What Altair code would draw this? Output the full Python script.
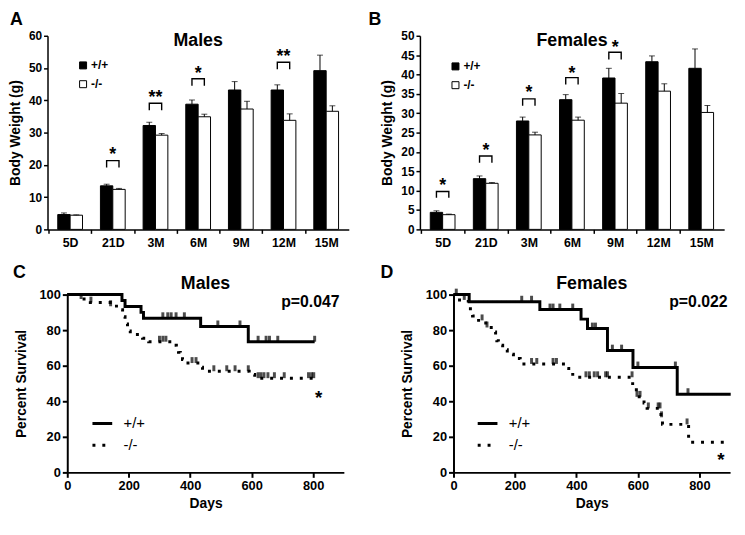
import altair as alt
import pandas as pd

FONT = "Liberation Sans"

# ---------------- data ----------------
ages = ["5D", "21D", "3M", "6M", "9M", "12M", "15M"]
genotypes = ["+/+", "-/-"]

# Panel A: males body weight (g), mean and SEM
male_wt = [4.6, 13.5, 32.2, 38.8, 43.2, 43.2, 49.2]
male_wt_sem = [0.5, 0.5, 1.0, 1.3, 2.6, 1.6, 4.8]
male_ko = [4.4, 12.4, 29.2, 34.9, 37.3, 33.8, 36.6]
male_ko_sem = [0.1, 0.3, 0.5, 0.8, 2.4, 2.0, 1.7]
male_sig_ages = ["21D", "3M", "6M", "12M"]
male_sig_marks = ["*", "**", "*", "**"]
male_bracket_top = [21.3, 39.1, 46.7, 51.8]
male_bracket_leg = [19.2, 36.9, 44.5, 49.6]
male_star_y = [24.6, 42.2, 49.6, 55.0]

# Panel B: females body weight (g)
female_wt = [4.4, 13.1, 28.0, 33.5, 39.1, 43.3, 41.6]
female_wt_sem = [0.4, 0.7, 1.0, 1.3, 2.5, 1.5, 5.0]
female_ko = [3.8, 11.9, 24.4, 28.2, 32.6, 35.7, 30.2]
female_ko_sem = [0.15, 0.2, 0.7, 0.8, 2.5, 1.9, 1.8]
female_sig_ages = ["5D", "21D", "3M", "6M", "9M"]
female_sig_marks = ["*", "*", "*", "*", "*"]
female_bracket_top = [9.8, 18.95, 33.7, 39.2, 45.75]
female_bracket_leg = [8.2, 17.2, 31.9, 37.4, 43.9]
female_star_y = [12.5, 21.6, 36.4, 41.4, 48.2]

# Panel C: males survival (Kaplan-Meier steps)
cm_wt_days = [0, 178, 188, 240, 248, 434, 589, 805]
cm_wt_surv = [100, 96.7, 93.3, 90.0, 86.7, 82.1, 73.5, 73.5]
cm_wt_cens = [311, 327, 338, 354, 381, 490, 562, 621, 647, 658, 685, 805]
cm_ko_days = [0, 45, 75, 140, 170, 180, 184, 188, 192, 196, 200, 205, 245, 265,
              345, 355, 362, 368, 375, 383, 430, 440, 592, 610, 805]
cm_ko_surv = [100, 97.5, 95.5, 93.5, 91.5, 89.5, 87.5, 85.5, 83.5, 81.5, 79.5, 77.5,
              75.5, 73.5, 71.5, 69.5, 67.5, 65.5, 63.5, 61.5, 59.2, 56.9, 55.0, 53.0, 53.0]
cm_ko_cens = [45, 77, 141, 300, 311, 321, 406, 419, 477, 519, 546, 589, 621, 630,
              640, 653, 674, 706, 785, 795, 802]

# Panel D: females survival
fd_wt_days = [0, 51, 281, 415, 436, 501, 584, 728, 902]
fd_wt_surv = [100, 96.0, 91.6, 86.2, 80.9, 68.5, 59.0, 44.0, 44.0]
fd_wt_cens = [222, 254, 314, 324, 346, 388, 452, 462, 517, 547, 600, 722, 763]
fd_ko_days = [0, 10, 48, 55, 62, 70, 105, 133, 137, 141, 146, 160, 175, 195, 217,
              365, 375, 388, 583, 595, 620, 630, 675, 680, 765, 886]
fd_ko_surv = [100, 97, 94, 91, 88, 85.5, 81.5, 79, 76.5, 74, 71.5, 69, 66.5, 64, 61,
              58.5, 56, 53.5, 47.5, 42.5, 39, 36, 31, 27, 17, 17]
fd_ko_cens = [9, 35, 93, 109, 254, 271, 324, 335, 431, 442, 458, 469, 495, 501, 581,
              597, 607, 634, 666, 672, 677, 760]


# ---------------- helpers ----------------
def label_layer(text, dx, dy, size, align="left"):
    return alt.Chart(alt.Data(values=[{"t": text}])).mark_text(
        font=FONT, fontSize=size, fontWeight="bold", align=align, baseline="alphabetic",
        color="black"
    ).encode(x=alt.value(dx), y=alt.value(dy), text="t:N")


def bar_panel(letter, title, wt, wt_sem, ko, ko_sem, sig_ages, sig_marks, br_top, br_leg,
              star_y, ymax, ystep, w, h, legx, legy, letter_dx):
    bars = pd.DataFrame({
        "age": ages * 2,
        "g": ["+/+"] * len(ages) + ["-/-"] * len(ages),
        "v": wt + ko,
        "hi": [a + b for a, b in zip(wt, wt_sem)] + [a + b for a, b in zip(ko, ko_sem)],
    })
    rows = []
    for a, t, l in zip(sig_ages, br_top, br_leg):
        rows += [
            {"age": a, "g": "+/+", "v": l, "o": 0},
            {"age": a, "g": "+/+", "v": t, "o": 1},
            {"age": a, "g": "-/-", "v": t, "o": 2},
            {"age": a, "g": "-/-", "v": l, "o": 3},
        ]
    br = pd.DataFrame(rows)
    stars = pd.DataFrame({"age": sig_ages, "v": star_y, "t": sig_marks})

    pi, po = 0.42, 0.24
    step = w / (len(ages) - pi + 2 * po)
    X = alt.X("age:N", sort=ages,
              scale=alt.Scale(domain=ages, paddingInner=pi, paddingOuter=po),
              axis=alt.Axis(title=None, labelAngle=0, tickOffset=-step / 2,
                            labelOffset=step / 2, labelFontSize=12.5, labelPadding=3,
                            domainWidth=1.5, tickWidth=1.5, tickSize=4))
    XO = alt.XOffset("g:N", sort=genotypes,
                     scale=alt.Scale(domain=genotypes, paddingInner=0, paddingOuter=0))
    yax = alt.Axis(title="Body Weight (g)", values=list(range(0, ymax + 1, ystep)),
                   labelFontSize=12, titleFontSize=14, titlePadding=6, labelPadding=2,
                   domainWidth=1.5, tickWidth=1.5, tickSize=4, labelFlush=False)
    ys = alt.Scale(domain=[0, ymax], nice=False, zero=True)
    Y = alt.Y("v:Q", scale=ys, axis=yax)

    bar = alt.Chart(bars).mark_bar(stroke="black", strokeWidth=1).encode(
        x=X, xOffset=XO, y=Y,
        fill=alt.Fill("g:N", sort=genotypes,
                      scale=alt.Scale(domain=genotypes, range=["black", "white"]),
                      legend=alt.Legend(title=None, orient="none", legendX=legx, legendY=legy,
                                        symbolType="square", symbolSize=50,
                                        symbolStrokeColor="black", symbolStrokeWidth=1,
                                        labelFont=FONT, labelFontSize=12, labelFontWeight="bold",
                                        labelColor="black", labelOffset=2, rowPadding=7,
                                        padding=0)))
    err = alt.Chart(bars).mark_rule(color="black", strokeWidth=1).encode(
        x=X, xOffset=XO, y=Y, y2="hi:Q")
    cap = alt.Chart(bars).mark_tick(color="black", thickness=1, size=6).encode(
        x=X, xOffset=XO, y=alt.Y("hi:Q", scale=ys, axis=yax))
    brk = alt.Chart(br).mark_line(color="black", strokeWidth=1.4).encode(
        x=X, xOffset=XO, y=Y, detail="age:N", order="o:Q")
    st = alt.Chart(stars).mark_text(font=FONT, fontSize=18, fontWeight="bold",
                                    baseline="middle", dy=5, color="black").encode(
        x=X, y=Y, text="t:N")
    lt = label_layer(letter, letter_dx, -11, 18)
    tt = label_layer(title, w / 2, 10, 18, align="center")
    return alt.layer(bar, err, cap, brk, st, lt, tt).properties(width=w, height=h)


def step_value(days, surv, d):
    v = surv[0]
    for dd, ss in zip(days, surv):
        if dd <= d:
            v = ss
    return v


def km_panel(letter, title, pval, wt_days, wt_surv, wt_cens, ko_days, ko_surv, ko_cens,
             pval_xy, star_xy, w, h, legx, legy, letter_dx, shift=0, left_room=None):
    curve = pd.DataFrame({
        "g": ["+/+"] * len(wt_days) + ["-/-"] * len(ko_days),
        "d": wt_days + ko_days,
        "s": wt_surv + ko_surv,
        "o": list(range(len(wt_days))) + list(range(len(ko_days))),
    })
    cens = pd.DataFrame({
        "d": wt_cens + ko_cens,
        "s": [step_value(wt_days, wt_surv, d) for d in wt_cens]
             + [step_value(ko_days, ko_surv, d) for d in ko_cens],
    })
    notes = pd.DataFrame({"d": [pval_xy[0]], "s": [pval_xy[1]], "t": [pval]})
    star = pd.DataFrame({"d": [star_xy[0]], "s": [star_xy[1]], "t": ["*"]})

    X = alt.X("d:Q", scale=alt.Scale(domain=[0, 900], nice=False, range=[shift, shift + w]),
              axis=alt.Axis(title="Days", values=[0, 200, 400, 600, 800], labelFontSize=13,
                            titleFontSize=14, labelFlush=False, domainWidth=2, tickWidth=2,
                            tickSize=5, labelPadding=2, titlePadding=5))
    yaxis_kw = dict(title="Percent Survival", values=[0, 20, 40, 60, 80, 100],
                    labelFontSize=13, titleFontSize=14, labelFlush=False,
                    domainWidth=2, tickWidth=2, tickSize=5, labelPadding=2, titlePadding=11)
    if shift:
        yaxis_kw["offset"] = -shift
    Y = alt.Y("s:Q", scale=alt.Scale(domain=[0, 100], nice=False), axis=alt.Axis(**yaxis_kw))
    line = alt.Chart(curve).mark_line(interpolate="step-after", strokeWidth=3,
                                      color="black", strokeCap="butt").encode(
        x=X, y=Y, order="o:Q",
        strokeDash=alt.StrokeDash("g:N", sort=genotypes,
                                  scale=alt.Scale(domain=genotypes, range=[[1, 0], [3, 7]]),
                                  legend=alt.Legend(title=None, orient="none",
                                                    legendX=legx + shift,
                                                    legendY=legy, symbolType="stroke",
                                                    symbolSize=400, symbolStrokeWidth=3,
                                                    symbolStrokeColor="black",
                                                    labelFont=FONT, labelFontSize=15,
                                                    labelColor="black", labelOffset=10,
                                                    rowPadding=2, padding=0)))
    ticks = alt.Chart(cens).mark_tick(orient="vertical", size=6, thickness=3,
                                      color="black", yOffset=-3).encode(x=X, y=Y)
    pv = alt.Chart(notes).mark_text(font=FONT, fontSize=16, fontWeight="bold", align="right",
                                    baseline="top", color="black").encode(x=X, y=Y, text="t:N")
    sr = alt.Chart(star).mark_text(font=FONT, fontSize=19, fontWeight="bold",
                                   baseline="middle", dy=6, color="black").encode(
        x=X, y=Y, text="t:N")
    lt = label_layer(letter, letter_dx + shift, -17, 18)
    tt = label_layer(title, shift + w / 2, -6, 18, align="center")
    layers = [line, ticks, pv, sr, lt, tt]
    if left_room is not None:
        # invisible spacer that widens the gap to the left panel
        layers.append(alt.Chart(alt.Data(values=[{"k": 0}])).mark_rule(
            strokeOpacity=0, opacity=0).encode(
            x=alt.value(left_room), x2=alt.value(left_room + 2), y=alt.value(0)))
    return alt.layer(*layers).properties(width=w + shift, height=h)


A = bar_panel("A", "Males", male_wt, male_wt_sem, male_ko, male_ko_sem, male_sig_ages,
              male_sig_marks, male_bracket_top, male_bracket_leg, male_star_y,
              60, 10, 305, 196, 30, 24, -38)
B = bar_panel("B", "Females", female_wt, female_wt_sem, female_ko, female_ko_sem,
              female_sig_ages, female_sig_marks, female_bracket_top, female_bracket_leg,
              female_star_y, 50, 5, 308, 196, 30, 25, -52)
C = km_panel("C", "Males", "p=0.047", cm_wt_days, cm_wt_surv, cm_wt_cens, cm_ko_days,
             cm_ko_surv, cm_ko_cens, (886, 100), (818, 45), 280, 180, 24, 119, -55,
             shift=20)
D = km_panel("D", "Females", "p=0.022", fd_wt_days, fd_wt_surv, fd_wt_cens, fd_ko_days,
             fd_ko_surv, fd_ko_cens, (892, 100), (870, 10), 280, 180, 23, 119, -74,
             left_room=-86)

RES = dict(fill="independent", strokeDash="independent")

chart = alt.concat(
    A, B, C, D, columns=2,
    align={"row": "all", "column": "none"},
    spacing={"row": 12, "column": 20},
).resolve_scale(**RES).resolve_legend(**RES).properties(padding=0).configure_view(
    stroke=None
).configure_axis(
    domainColor="black", tickColor="black", labelColor="black", titleColor="black",
    labelFont=FONT, titleFont=FONT, labelFontWeight="bold", titleFontWeight="bold",
    grid=False,
)

chart.save("out.html", embed_options={"renderer": "svg", "actions": False})
